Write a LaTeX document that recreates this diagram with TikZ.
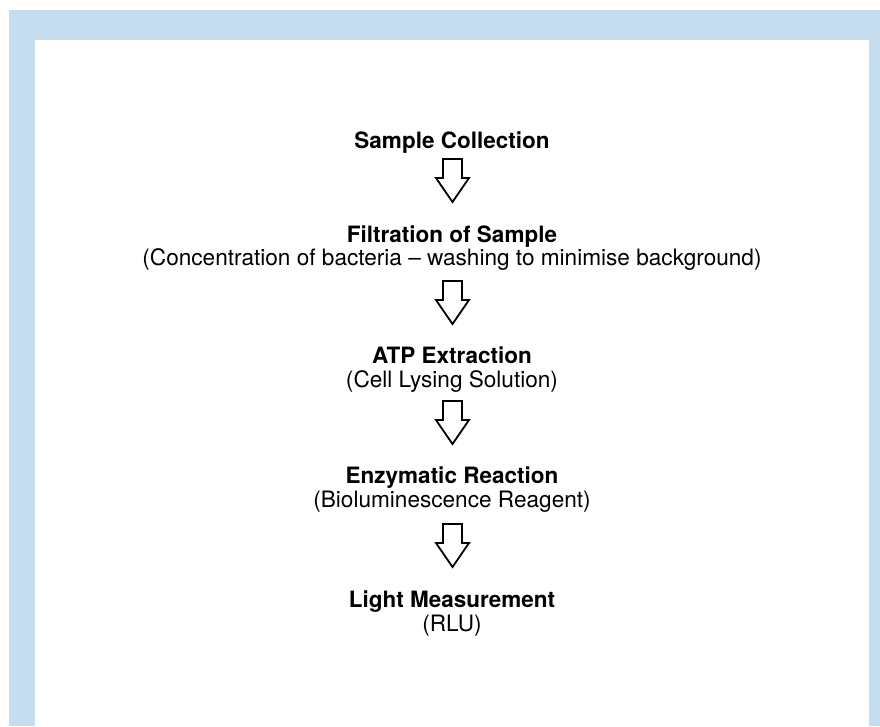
\documentclass[tikz,border=0pt]{standalone}
\usepackage{fontspec}
\setmainfont{TeX Gyre Heros}
\definecolor{framebg}{RGB}{197,221,239}
\begin{document}
\begin{tikzpicture}[x=1pt,y=-1pt,
  title/.style={anchor=base, inner sep=0pt, font=\fontsize{22.5}{26}\selectfont\bfseries},
  sub/.style={anchor=base, inner sep=0pt, font=\fontsize{22.6}{26}\selectfont},
  blockarrow/.pic={\draw[line width=1.8pt, line join=miter]
     (-9.5,0) -- (9.5,0) -- (9.5,19) -- (16.5,19) -- (0,43) -- (-16.5,19) -- (-9.5,19) -- cycle;}
]
\useasboundingbox (0,0) rectangle (880,726);
\fill[framebg] (9,10) rectangle (880,726);
\fill[white] (35,40) rectangle (869,726);

\node[title] (t1) at (452,148) {Sample Collection};
\coordinate (a1) at (452.5,159);
\pic at (a1) {blockarrow};

\node[title] (t2) at (452,242) {Filtration of Sample};
\node[sub] (s2) at (452,265) {(Concentration of bacteria – washing to minimise background)};
\coordinate (a2) at (452.5,281);
\pic at (a2) {blockarrow};

\node[title] (t3) at (452,363) {ATP Extraction};
\node[sub] (s3) at (452,387) {(Cell Lysing Solution)};
\coordinate (a3) at (452.5,401);
\pic at (a3) {blockarrow};

\node[title] (t4) at (452,483) {Enzymatic Reaction};
\node[sub] (s4) at (452,507) {(Bioluminescence Reagent)};
\coordinate (a4) at (452.5,524);
\pic at (a4) {blockarrow};

\node[title] (t5) at (452,607) {Light Measurement};
\node[sub] (s5) at (452,631) {(RLU)};
\end{tikzpicture}
\end{document}
